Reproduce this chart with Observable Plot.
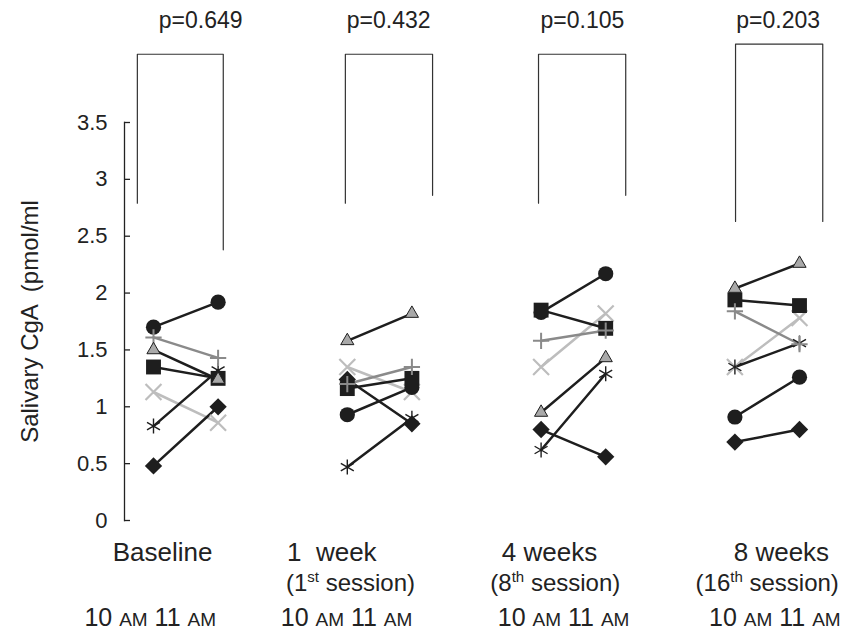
<!DOCTYPE html>
<html>
<head>
<meta charset="utf-8">
<script src="https://cdn.jsdelivr.net/npm/d3@7"></script>
<script src="https://cdn.jsdelivr.net/npm/@observablehq/plot@0.6"></script>
<style>
  html, body { margin: 0; padding: 0; background: #fff; }
  #chart svg { display: block; }
</style>
</head>
<body>
<div id="chart"></div>
<script>
// ---------- data ----------
const groups = ["Baseline", "1  week", "4 weeks", "8 weeks"];
const sessionOrdinals = ["1", "8", "16"];
const sessionSuffixes = ["st", "th", "th"];
const timesOfDay = ["10 AM", "11 AM"];
const yTicks = [0, 0.5, 1, 1.5, 2, 2.5, 3, 3.5];
const yTitle = "Salivary CgA  (pmol/ml";
const pValues = ["p=0.649", "p=0.432", "p=0.105", "p=0.203"];

// one value per group x time: [B10, B11, 1w10, 1w11, 4w10, 4w11, 8w10, 8w11]
const seriesNames = ["times", "asterisk", "circle", "square", "diamond", "plus", "triangle"];
const timesValues    = [1.13, 0.86, 1.35, 1.13, 1.35, 1.82, 1.35, 1.78];
const asteriskValues = [0.83, 1.32, 0.47, 0.90, 0.62, 1.29, 1.35, 1.56];
const circleValues   = [1.70, 1.92, 0.93, 1.17, 1.83, 2.17, 0.91, 1.26];
const squareValues   = [1.35, 1.25, 1.16, 1.25, 1.85, 1.69, 1.94, 1.89];
const diamondValues  = [0.48, 1.00, 1.24, 0.85, 0.80, 0.56, 0.69, 0.80];
const plusValues     = [1.61, 1.43, 1.20, 1.35, 1.58, 1.67, 1.84, 1.55];
const triangleValues = [1.50, 1.24, 1.58, 1.82, 0.95, 1.43, 2.04, 2.26];

// significance brackets (y levels, pmol/ml)
const bracketTop      = [4.10, 4.10, 4.10, 4.19];
const bracketLeftEnd  = [2.79, 2.79, 2.79, 2.63];
const bracketRightEnd = [2.38, 2.86, 2.86, 2.63];

// ---------- layout / style (not data) ----------
const layout = {
  bracketLeftOffset:  [-0.25, -0.03, -0.04, 0.01],
  bracketRightOffset: [0.08, 0.32, 0.31, 0.36],
  pX:        [0.73, 3.64, 6.64, 9.67],
  groupX:    [0.14, 2.76, 6.13, 9.72],
  sessionX:  [3.05, 6.22, 9.50],
  timeX:     [-1.07, 1.97, 5.33, 8.6]
};
const BLACK = "#1e1e1e";
const styles = {
  times:    {line: "#bdbdbd", symbol: "times",    r: 7.3, fill: "none",    stroke: "#bdbdbd", sw: 2.2},
  asterisk: {line: BLACK,     symbol: "asterisk", r: 7.1, fill: "none",    stroke: BLACK,     sw: 1.4},
  circle:   {line: BLACK,     symbol: "circle",   r: 7.6, fill: BLACK,     stroke: "none",    sw: 0},
  square:   {line: BLACK,     symbol: "square",   r: 8.4, fill: BLACK,     stroke: "none",    sw: 0},
  diamond:  {line: BLACK,     symbol: "diamond2", r: 7.8, fill: BLACK,     stroke: "none",    sw: 0},
  plus:     {line: "#8a8a8a", symbol: "plus",     r: 5.3, fill: "none",    stroke: "#8a8a8a", sw: 2},
  triangle: {line: BLACK,     symbol: "triangle", r: 4.9, fill: "#a9a9a9", stroke: BLACK,     sw: 1}
};
const valuesBySeries = {
  times: timesValues, asterisk: asteriskValues, circle: circleValues, square: squareValues,
  diamond: diamondValues, plus: plusValues, triangle: triangleValues
};

const rowsOf = (name) => valuesBySeries[name].map((v, i) => ({
  series: name,
  group: Math.floor(i / 2),
  x: Math.floor(i / 2) * 3 + (i % 2),
  value: v
}));

const bracketRows = bracketTop.flatMap((top, g) => {
  const xl = g * 3 + layout.bracketLeftOffset[g];
  const xr = g * 3 + 1 + layout.bracketRightOffset[g];
  return [
    {b: g, x: xl, y: bracketLeftEnd[g]},
    {b: g, x: xl, y: top},
    {b: g, x: xr, y: top},
    {b: g, x: xr, y: bracketRightEnd[g]}
  ];
});

const sessionTexts = sessionOrdinals.map((n, i) => `(${n}${sessionSuffixes[i]} session)`);
const timeText = timesOfDay.join(" ");

const W = 845, H = 632, ML = 124, MR = 0, MT = 122, MB = 112;
const FONT = "'Liberation Sans', Arial, Helvetica, sans-serif";

const plot = Plot.plot({
  width: W, height: H,
  marginLeft: ML, marginRight: MR, marginTop: MT, marginBottom: MB,
  style: {fontFamily: FONT, fontSize: "22px", color: "#222", background: "#fff"},
  x: {domain: [0, 10], range: [153, 799], axis: null},
  y: {domain: [0, 3.5], range: [H - MB, MT], axis: null},
  marks: [
    // y axis
    Plot.frame({anchor: "left", stroke: "#222", strokeWidth: 1.3}),
    Plot.tickY(yTicks, {y: d => d, insetRight: W - ML - MR - 6, stroke: "#222", strokeWidth: 1.3}),
    Plot.axisY({ticks: yTicks, tickSize: 0, tickPadding: 17, tickFormat: d => String(d), label: null, fontSize: 22, fill: "#222"}),
    Plot.text([yTitle], {text: d => d, frameAnchor: "left", textAnchor: "middle", rotate: -90, dx: -94, fontSize: 24, fill: "#222"}),
    // brackets
    Plot.line(bracketRows, {x: "x", y: "y", z: "b", stroke: "#333", strokeWidth: 1.2}),
    Plot.text(pValues, {text: d => d, x: layout.pX, frameAnchor: "top", dy: -111, fontSize: 23, fill: "#222"}),
    // subject lines
    ...seriesNames.map(n => Plot.line(rowsOf(n), {x: "x", y: "value", z: "group", stroke: styles[n].line, strokeWidth: 2.5})),
    // markers
    ...seriesNames.map(n => Plot.dot(rowsOf(n), {
      x: "x", y: "value", symbol: styles[n].symbol, r: styles[n].r,
      fill: styles[n].fill, stroke: styles[n].stroke, strokeWidth: styles[n].sw
    })),
    // bottom labels
    Plot.text(groups, {text: d => d, x: layout.groupX, frameAnchor: "bottom", dy: 40, fontSize: 26, fill: "#222"}),
    Plot.text(sessionTexts, {text: d => d, x: layout.sessionX, frameAnchor: "bottom", dy: 70, fontSize: 24, fill: "#222"}),
    Plot.text(groups.map(() => timeText), {text: d => d, x: layout.timeX, frameAnchor: "bottom", dy: 105, textAnchor: "start", fontSize: 25, fill: "#222"})
  ]
});

// superscript ordinals and small-caps AM
d3.select(plot).selectAll("text").each(function () {
  const s = this.textContent;
  const t = d3.select(this);
  const m = s.match(/^\((\d+)(st|nd|rd|th)(.*)$/);
  if (m) {
    t.text(null);
    t.append("tspan").text("(" + m[1]);
    t.append("tspan").attr("dy", -9).attr("font-size", 15).text(m[2]);
    t.append("tspan").attr("dy", 9).text(m[3]);
    return;
  }
  if (/^\d+ AM \d+ AM$/.test(s)) {
    t.text(null);
    s.split(/(AM)/).forEach(p => {
      if (!p) return;
      const ts = t.append("tspan").text(p);
      if (p === "AM") ts.attr("font-size", 19);
    });
  }
});

document.getElementById("chart").appendChild(plot);
</script>
</body>
</html>
